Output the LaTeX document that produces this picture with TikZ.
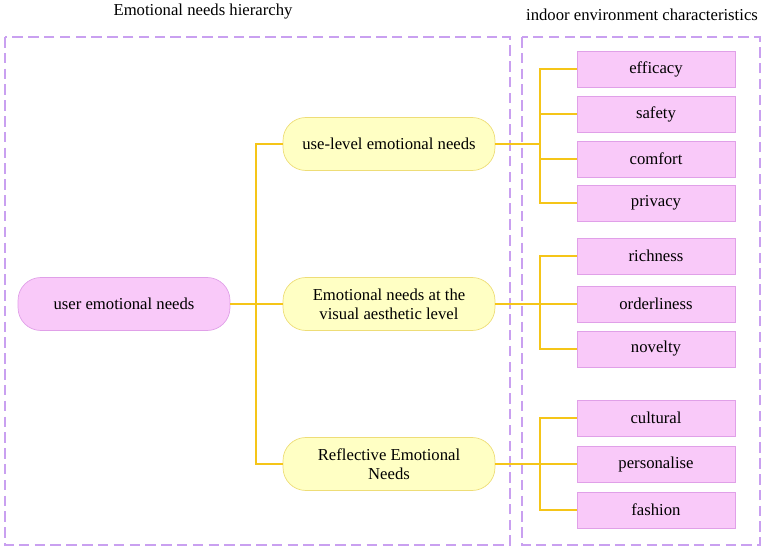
\documentclass[tikz,border=0pt]{standalone}
\usepackage{fontspec}
\setmainfont{Liberation Serif}
\usetikzlibrary{positioning}
\definecolor{pinkfill}{HTML}{F9C9F9}
\definecolor{pinkline}{HTML}{E0A0E8}
\definecolor{yelfill}{HTML}{FFFFC4}
\definecolor{yelline}{HTML}{EEDD77}
\definecolor{gold}{HTML}{F5C518}
\definecolor{boxline}{HTML}{C9A0F0}
\begin{document}
\begin{tikzpicture}[x=0.02cm,y=-0.02cm,
	every node/.style={font=\fontsize{9.5}{11}\selectfont},
	root/.style={draw=pinkline,fill=pinkfill,rounded corners=13pt,minimum width=4.24cm,minimum height=1.06cm},
	need/.style={draw=yelline,fill=yelfill,rounded corners=13pt,minimum width=4.24cm,minimum height=1.06cm,align=center},
	trait/.style={draw=pinkline,fill=pinkfill,minimum width=3.16cm,minimum height=0.72cm},
	link/.style={gold,line width=1pt},
	group/.style={boxline,dashed,line width=1.2pt,dash pattern=on 6pt off 3pt}]
		
		\useasboundingbox (0,0) rectangle (767,550);
		
		%Dashed frames and titles
		\draw[group] (5,37) rectangle (510,545);
		\draw[group] (522,37) rectangle (760,545);
		\node (title1) at (203,12) {Emotional needs hierarchy};
		\node (title2) at (642,15) {indoor environment characteristics};
		
		%Root and needs
		\node[root] (user) at (124,304) {user emotional needs};
		\node[need] (use) at (389,144) {use-level emotional needs};
		\node[need] (vis) at (389,304) {Emotional needs at the\\visual aesthetic level};
		\node[need] (ref) at (389,464) {Reflective Emotional\\Needs};
		
		%Characteristics
		\foreach \name/\y/\txt in {eff/69/efficacy, saf/114/safety, com/159/comfort, pri/203/privacy,
			ric/256/richness, ord/304/orderliness, nov/349/novelty,
			cul/418/cultural, per/464/personalise, fas/510/fashion}
			\node[trait] (\name) at (656,\y) {\txt};
		
		%Left tree
		\coordinate (split) at (256,304);
		\draw[link] (user.east) -- (split);
		\draw[link] (use.west) -| (split) |- (ref.west);
		\draw[link] (split) -- (vis.west);
		
		%Right trees
		\foreach \src/\a/\b/\c/\d in {use/eff/saf/com/pri, vis/ric/ord/nov/nov, ref/cul/per/fas/fas}{
			\coordinate (bus) at (540,0);
			\draw[link] (\src.east) -- (bus |- \src.east);
			\draw[link] (\a.west) -| (bus |- \a.west) |- (\d.west);
			\draw[link] (\b.west) -- (bus |- \b.west);
			\draw[link] (\c.west) -- (bus |- \c.west);
		}
		
\end{tikzpicture}
\end{document}
